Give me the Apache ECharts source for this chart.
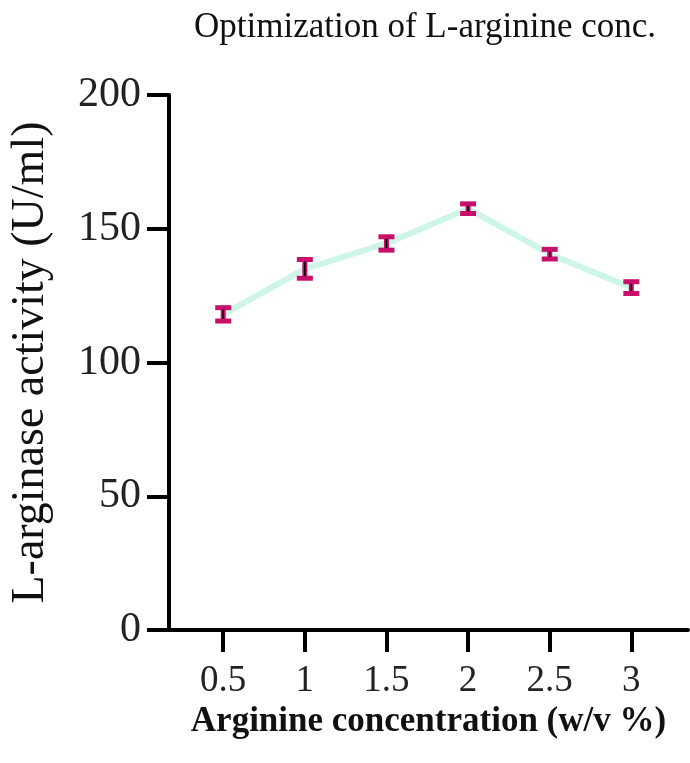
<!DOCTYPE html>
<html>
<head>
<meta charset="utf-8">
<script src="https://cdn.jsdelivr.net/npm/echarts@6/dist/echarts.min.js"></script>
<style>
  html, body { margin: 0; padding: 0; background: #fff; }
  #chart { width: 690px; height: 763px; }
</style>
</head>
<body>
<div id="chart"></div>
<script>
// data
var concentrations = [0.5, 1, 1.5, 2, 2.5, 3];
var activity = [118, 135, 144.5, 157.5, 140.5, 128];
var errors = [2.5, 3.5, 2.5, 1.8, 1.8, 2.2];

var lineData = concentrations.map(function (c, i) { return [c, activity[i]]; });
var errData = concentrations.map(function (c, i) {
  return [c, activity[i] - errors[i], activity[i] + errors[i]];
});

var chart = echarts.init(document.getElementById('chart'));
var serif = '"Liberation Serif", "DejaVu Serif", serif';

var option = {
  backgroundColor: '#fff',
  animation: false,
  title: {
    text: 'Optimization of L-arginine conc.',
    left: 420,
    top: 5,
    textAlign: 'center',
    textStyle: { fontFamily: serif, fontWeight: 'normal', fontSize: 35, color: '#111' }
  },
  grid: { left: 154, right: 2, top: 95, bottom: 133, containLabel: false },
  xAxis: {
    type: 'value',
    min: 0.168,
    max: 3.347,
    name: 'Arginine concentration (w/v %)',
    nameLocation: 'middle',
    nameGap: 70,
    nameTextStyle: { fontFamily: serif, fontWeight: 'bold', fontSize: 35, color: '#111' },
    axisLine: { lineStyle: { color: '#000', width: 4 } },
    axisTick: { show: true, length: 22, lineStyle: { color: '#000', width: 4 }, customValues: concentrations },
    axisLabel: {
      customValues: concentrations,
      fontFamily: serif, fontSize: 37, color: '#222', margin: 33,
      formatter: function (v) { return String(v); }
    },
    splitLine: { show: false }
  },
  yAxis: {
    type: 'value',
    min: 0,
    max: 200,
    interval: 50,
    name: 'L-arginase activity (U/ml)',
    nameLocation: 'middle',
    nameGap: 115,
    nameTextStyle: { fontFamily: serif, fontSize: 46, color: '#111' },
    axisLine: { show: true, lineStyle: { color: '#000', width: 4 } },
    axisTick: { show: true, length: 22, lineStyle: { color: '#000', width: 4 } },
    axisLabel: { fontFamily: serif, fontSize: 42, color: '#222', margin: 28 },
    splitLine: { show: false }
  },
  series: [
    {
      name: 'activity',
      type: 'line',
      data: lineData,
      symbol: 'none',
      lineStyle: { color: '#cdf5e8', width: 6 },
      z: 2
    },
    {
      name: 'error',
      type: 'custom',
      data: errData,
      z: 3,
      renderItem: function (params, api) {
        var x = api.value(0);
        var lo = api.coord([x, api.value(1)]);
        var hi = api.coord([x, api.value(2)]);
        var cx = lo[0];
        var w = 16, h = 5;
        var col = '#c8106a';
        return {
          type: 'group',
          children: [
            { type: 'rect', shape: { x: cx - 2.5, y: hi[1], width: 5, height: lo[1] - hi[1] }, style: { fill: col } },
            { type: 'rect', shape: { x: cx - w / 2, y: hi[1] - h / 2, width: w, height: h }, style: { fill: col } },
            { type: 'rect', shape: { x: cx - w / 2, y: lo[1] - h / 2, width: w, height: h }, style: { fill: col } },
            { type: 'line', shape: { x1: cx, y1: hi[1] + 2, x2: cx, y2: lo[1] - 2 }, style: { stroke: '#000', lineWidth: 1.5 } }
          ]
        };
      }
    }
  ]
};

chart.setOption(option);
window.addEventListener('resize', function () { chart.resize(); });
</script>
</body>
</html>
